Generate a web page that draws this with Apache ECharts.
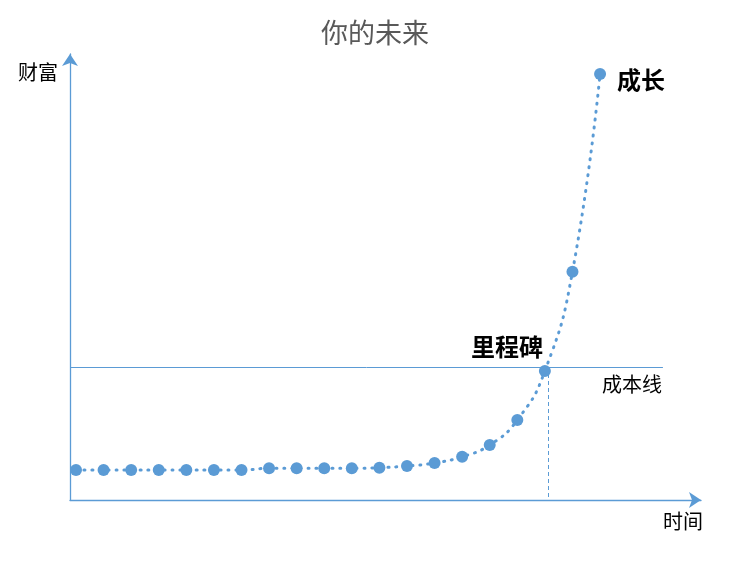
<!DOCTYPE html>
<html><head><meta charset="utf-8">
<script src="https://cdn.jsdelivr.net/npm/echarts@6/dist/echarts.min.js"></script>
<style>html,body{margin:0;padding:0;background:#fff;}#c{width:750px;height:582px;}</style>
</head><body><div id="c"></div>
<script>
var titleText = '你的未来';
var yName = '财富';
var xName = '时间';
var timeIdx = [0,1,2,3,4,5,6,7,8,9,10,11,12,13,14,15,16,17,18,19];
var wealth = [30,30,30,30,30,30,30,31.7,31.7,31.7,31.7,32.3,34,37,43.3,55,80,129,228.3,426];
var costLevel = 133;
var costLineEndX = 21.28;
var milestoneX = 17.11;
var milestoneIdx = 17;
var milestoneLabel = '里程碑';
var growthLabel = '成长';
var costLabel = '成本线';
var xMin = -0.2175, xMax = 22.66, yMax = 446;

var blue = '#5B9BD5';
var font = '"Noto Sans CJK SC", "Microsoft YaHei", sans-serif';
var data = timeIdx.map(function (t, i) {
  var d = { value: [t, wealth[i]] };
  if (i === milestoneIdx) {
    d.label = { show: true, formatter: milestoneLabel, position: [4, -18], align: 'right', verticalAlign: 'middle',
      fontSize: 24, fontWeight: 'bold', color: '#000', fontFamily: font };
  }
  if (i === timeIdx.length - 1) {
    d.label = { show: true, formatter: growthLabel, position: 'right', distance: 11, offset: [0, 6],
      fontSize: 24, fontWeight: 'bold', color: '#000', fontFamily: font };
  }
  return d;
});
var chart = echarts.init(document.getElementById('c'), null, { renderer: 'canvas' });
chart.setOption({
  animation: false,
  backgroundColor: '#fff',
  title: { text: titleText, left: 'center', top: 14,
    textStyle: { fontSize: 27, fontWeight: 'normal', color: '#595959', fontFamily: font } },
  grid: { left: 70, right: 49, top: 54, bottom: 82 },
  xAxis: {
    type: 'value', min: xMin, max: xMax,
    name: xName, nameLocation: 'end', nameGap: 2,
    nameTextStyle: { fontSize: 20, color: '#000', align: 'right', verticalAlign: 'top', padding: [11, 0, 0, 0], fontFamily: font },
    axisLine: { show: true, onZero: false, symbol: ['none', 'arrow'], symbolSize: [12, 12], lineStyle: { color: blue, width: 1.3 } },
    axisTick: { show: false }, axisLabel: { show: false }, splitLine: { show: false }
  },
  yAxis: {
    type: 'value', min: 0, max: yMax,
    name: yName, nameLocation: 'end', nameGap: -18,
    nameTextStyle: { fontSize: 20, color: '#000', align: 'right', verticalAlign: 'middle', padding: [0, 12, 0, 0], fontFamily: font },
    axisLine: { show: true, onZero: false, symbol: ['none', 'arrow'], symbolSize: [12, 12], lineStyle: { color: blue, width: 1.3 } },
    axisTick: { show: false }, axisLabel: { show: false }, splitLine: { show: false }
  },
  series: [{
    type: 'line',
    data: data,
    smooth: 0.5,
    symbol: 'circle',
    symbolSize: 12,
    itemStyle: { color: blue },
    lineStyle: { color: blue, width: 3, type: [1, 7], cap: 'round' },
    markLine: {
      silent: true,
      symbol: ['none', 'none'],
      data: [
        [{ coord: [xMin, costLevel], lineStyle: { type: 'solid', color: blue, width: 1 },
           label: { show: true, formatter: costLabel, position: 'insideEndBottom', distance: [1, 7],
             fontSize: 20, color: '#000', fontFamily: font } },
         { coord: [costLineEndX, costLevel] }],
        [{ coord: [milestoneX, costLevel], lineStyle: { type: [4, 3], color: blue, width: 1 }, label: { show: false } },
         { coord: [milestoneX, 0] }]
      ]
    }
  }]
});
</script></body></html>
